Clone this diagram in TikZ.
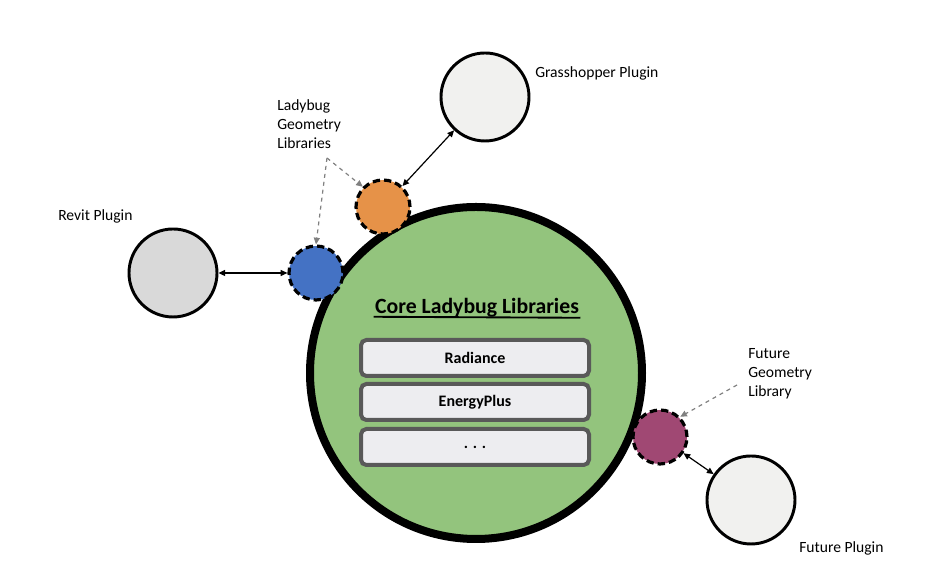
\documentclass[tikz,border=0pt]{standalone}
\usepackage{fontspec}
\setmainfont{Carlito}
\usetikzlibrary{arrows.meta}
\definecolor{coregreen}{RGB}{147,196,125}
\definecolor{geoblue}{RGB}{68,114,196}
\definecolor{geoorange}{RGB}{230,146,72}
\definecolor{geopurple}{RGB}{160,72,115}
\definecolor{plugingray}{RGB}{217,217,217}
\definecolor{pluginwhite}{RGB}{241,241,239}
\definecolor{libfill}{RGB}{237,237,240}
\definecolor{libline}{RGB}{89,89,89}
\begin{document}
\begin{tikzpicture}[x=0.75pt, y=0.75pt,
  every node/.style={font=\fontsize{11.7}{14.25}\selectfont},
  plugin/.style={circle, draw=black, line width=2.2pt, inner sep=0pt, minimum size=66pt},
  geolib/.style={circle, draw=black, line width=2.4pt, dash pattern=on 5.5pt off 3pt, inner sep=0pt, minimum size=40.5pt},
  libbox/.style={rounded corners=4pt, draw=libline, fill=libfill, line width=3pt, minimum width=171pt, minimum height=27pt, font=\fontsize{12}{14}\selectfont\bfseries},
  link/.style={{Triangle[length=5pt,width=4.5pt]}-{Triangle[length=5pt,width=4.5pt]}, line width=0.9pt},
  pointer/.style={-{Triangle[length=5pt,width=4.5pt]}, dashed, draw=gray, line width=0.9pt},
  note/.style={align=left, inner sep=0pt}]
  \useasboundingbox (0,0) rectangle (947,573);

  % core circle
  \node[circle, draw=black, fill=coregreen, line width=6pt, inner sep=0pt, minimum size=249pt] (core) at (476,200) {};
  \node[font=\fontsize{16.3}{19}\selectfont\bfseries, inner sep=1pt] (coretitle) at (477,265) {Core Ladybug Libraries};
  \draw[line width=1.4pt] (coretitle.base west) ++(0,-3) -- ([yshift=-3]coretitle.base east);
  \node[libbox] (radiance) at (475,215) {Radiance};
  \node[libbox] (energyplus) at (475,171) {EnergyPlus};
  \node[libbox] (more) at (475,126) {. . .};

  % plugins
  \node[plugin, fill=plugingray] (revit) at (173,300) {};
  \node[plugin, fill=pluginwhite] (grasshopper) at (485,476) {};
  \node[plugin, fill=pluginwhite] (futureplugin) at (751,73) {};

  % geometry libraries
  \node[geolib, fill=geoblue] (geoblue) at (316,300) {};
  \node[geolib, fill=geoorange] (geoorange) at (383,366) {};
  \node[geolib, fill=geopurple] (geofuture) at (660,136) {};

  % labels
  \node[note, anchor=west] (revitlabel) at (58,357) {Revit Plugin};
  \node[note, anchor=west] (grasslabel) at (535,500) {Grasshopper Plugin};
  \node[note, anchor=west] (futurelabel) at (799,25) {Future Plugin};
  \node[note, anchor=west] (lbgeolabel) at (277,449) {Ladybug\\Geometry\\Libraries};
  \node[note, anchor=west] (futgeolabel) at (748,199) {Future\\Geometry\\Library};
  \coordinate (lbgeotip) at (327,415);
  \coordinate (futgeotip) at (737,188);

  % connectors
  \draw[link] (revit) -- (geoblue);
  \draw[link] (geoorange) -- (grasshopper);
  \draw[link] (geofuture) -- (futureplugin);
  \draw[pointer] (lbgeotip) -- (geoblue.north);
  \draw[pointer] (lbgeotip) -- (geoorange.135);
  \draw[pointer] (futgeotip) -- (geofuture.45);
\end{tikzpicture}
\end{document}
